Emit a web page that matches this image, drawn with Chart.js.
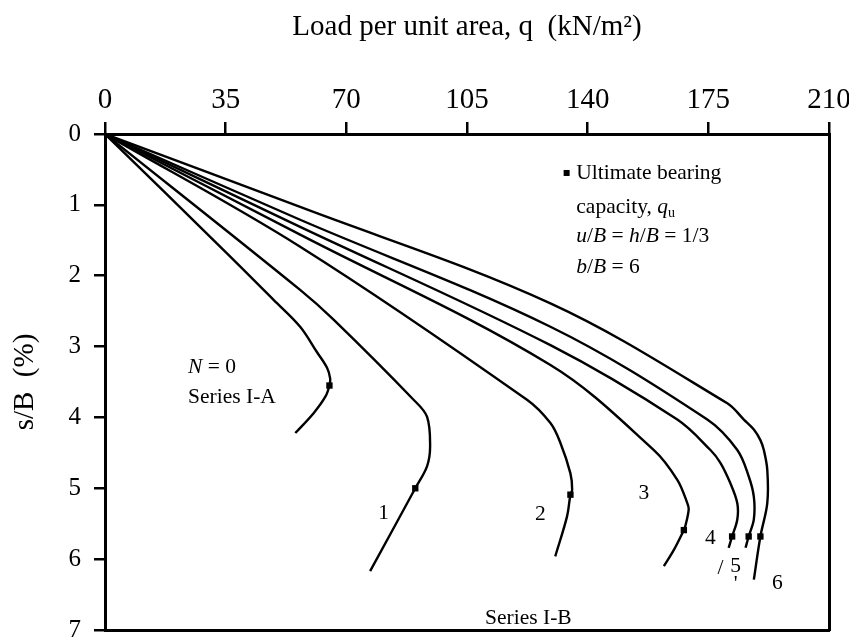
<!DOCTYPE html>
<html>
<head>
<meta charset="utf-8">
<script src="https://cdn.jsdelivr.net/npm/chart.js@4.4.0/dist/chart.umd.min.js"></script>
<style>
html,body{margin:0;padding:0;background:#fff;}
#wrap{width:849px;height:644px;position:relative;}
</style>
</head>
<body>
<div id="wrap"><canvas id="c" width="849" height="644"></canvas></div>
<script>
// ---- data ----
const xTickValues = [0, 35, 70, 105, 140, 175, 210];
const yTickValues = [0, 1, 2, 3, 4, 5, 6, 7];
const layerCounts = ['0', '1', '2', '3', '4', '5', '6'];

const loadN0   = [0, 35.3, 48.9, 56.6, 61.5, 64.4, 65.3, 65.1, 64.0, 60.5, 55.2];
const settleN0 = [0, 1.68, 2.34, 2.72, 3.08, 3.30, 3.45, 3.55, 3.70, 3.94, 4.22];

const loadN1   = [0, 56.6, 66.3, 89.5, 93.4, 94.3, 93.4, 90.0, 76.9];
const settleN1 = [0, 2.20, 2.62, 3.75, 3.99, 4.41, 4.69, 5.00, 6.17];

const loadN2   = [0, 56.6, 122.4, 129.2, 132.1, 135.0, 135.5, 135.0, 134.0, 130.6];
const settleN2 = [0, 1.59, 3.75, 4.08, 4.36, 4.79, 5.02, 5.09, 5.40, 5.96];

const loadN3   = [0, 56.6, 129.2, 159.2, 166.0, 168.9, 169.3, 168.3, 167.9, 165.0, 162.1];
const settleN3 = [0, 1.42, 3.26, 4.46, 4.88, 5.21, 5.30, 5.54, 5.59, 5.87, 6.10];

const loadN4   = [0, 56.6, 129.2, 166.0, 175.6, 178.5, 181.4, 183.4, 183.4, 181.9, 180.9];
const settleN4 = [0, 1.31, 2.98, 4.03, 4.46, 4.64, 4.93, 5.21, 5.44, 5.68, 5.84];

const loadN5   = [0, 56.6, 129.2, 174.7, 183.4, 186.7, 188.2, 188.2, 186.7, 185.8];
const settleN5 = [0, 1.21, 2.72, 4.03, 4.46, 4.83, 5.12, 5.44, 5.68, 5.84];

const loadN6   = [0, 56.6, 129.2, 180.5, 185.3, 188.2, 190.1, 191.1, 192.1, 192.1, 190.1, 188.2];
const settleN6 = [0, 1.03, 2.39, 3.80, 4.03, 4.17, 4.32, 4.46, 4.74, 5.21, 5.68, 6.29];

const ultimateLoad   = [65.1, 90.0, 135.0, 167.9, 181.9, 186.7, 190.1];
const ultimateSettle = [3.55, 5.00, 5.09, 5.59, 5.68, 5.68, 5.68];

// ---- build datasets ----
const curveLoads = [loadN0, loadN1, loadN2, loadN3, loadN4, loadN5, loadN6];
const curveSettles = [settleN0, settleN1, settleN2, settleN3, settleN4, settleN5, settleN6];

const datasets = curveLoads.map((qs, k) => ({
  label: 'N = ' + layerCounts[k],
  data: qs.map((q, i) => ({x: q, y: curveSettles[k][i]})),
  showLine: true,
  borderColor: '#000',
  borderWidth: 2.4,
  pointRadius: 0,
  tension: 0.35,
  fill: false
}));
datasets.push({
  label: 'Ultimate bearing capacity',
  data: ultimateLoad.map((q, i) => ({x: q, y: ultimateSettle[i]})),
  showLine: false,
  pointStyle: 'rect',
  pointRadius: 4.5,
  backgroundColor: '#000',
  borderColor: '#000',
  borderWidth: 0
});

const SERIF = '"Liberation Serif", "DejaVu Serif", serif';

// ---- annotation plugin (text labels placed in data coordinates) ----
const annotations = [
  {q: 24.1, s: 3.30, align: 'left', segs: [['N', 'i'], [' = 0', 'n']]},
  {q: 24.1, s: 3.72, align: 'left', segs: [['Series I-A', 'n']]},
  {q: 80.8, s: 5.35, align: 'center', segs: [['1', 'n']]},
  {q: 126.3, s: 5.37, align: 'center', segs: [['2', 'n']]},
  {q: 156.3, s: 5.07, align: 'center', segs: [['3', 'n']]},
  {q: 175.6, s: 5.70, align: 'center', segs: [['4', 'n']]},
  {q: 178.5, s: 6.13, align: 'center', segs: [['/', 'n']]},
  {q: 182.9, s: 6.10, align: 'center', segs: [['5', 'n']]},
  {q: 182.9, s: 6.36, align: 'center', segs: [["'", 'n']]},
  {q: 195.0, s: 6.34, align: 'center', segs: [['6', 'n']]},
  {q: 122.8, s: 6.84, align: 'center', segs: [['Series I-B', 'n']]},
  {q: 136.7, s: 0.55, align: 'left', segs: [['Ultimate bearing', 'n']]},
  {q: 136.7, s: 1.03, align: 'left', segs: [['capacity, ', 'n'], ['q', 'i'], ['u', 'sub']]},
  {q: 136.7, s: 1.45, align: 'left', segs: [['u', 'i'], ['/', 'n'], ['B', 'i'], [' = ', 'n'], ['h', 'i'], ['/', 'n'], ['B', 'i'], [' = 1/3', 'n']]},
  {q: 136.7, s: 1.88, align: 'left', segs: [['b', 'i'], ['/', 'n'], ['B', 'i'], [' = 6', 'n']]}
];
const legendSquare = {q: 133.9, s: 0.55};

const annotPlugin = {
  id: 'annot',
  afterDatasetsDraw(chart) {
    const {ctx} = chart;
    const xs = chart.scales.x, ys = chart.scales.y;
    const size = 21.5;
    const fontOf = st => st === 'i' ? `italic ${size}px ${SERIF}` : st === 'sub' ? `${Math.round(size*0.65)}px ${SERIF}` : `${size}px ${SERIF}`;
    ctx.save();
    ctx.fillStyle = '#000';
    ctx.textBaseline = 'middle';
    ctx.textAlign = 'left';
    annotations.forEach(a => {
      let total = 0;
      a.segs.forEach(([t, st]) => { ctx.font = fontOf(st); total += ctx.measureText(t).width; });
      let px = xs.getPixelForValue(a.q);
      const py = ys.getPixelForValue(a.s);
      if (a.align === 'center') px -= total / 2;
      a.segs.forEach(([t, st]) => {
        ctx.font = fontOf(st);
        ctx.fillText(t, px, st === 'sub' ? py + size * 0.3 : py);
        px += ctx.measureText(t).width;
      });
    });
    const sx = xs.getPixelForValue(legendSquare.q), sy = ys.getPixelForValue(legendSquare.s);
    ctx.fillRect(sx - 3, sy - 3, 6, 6);
    ctx.restore();
  }
};

function zeroPad(s) { s.paddingLeft = 0; s.paddingRight = 0; s.paddingTop = 0; s.paddingBottom = 0; }

new Chart(document.getElementById('c').getContext('2d'), {
  type: 'scatter',
  data: {datasets},
  plugins: [annotPlugin],
  options: {
    responsive: false,
    animation: false,
    devicePixelRatio: 1,
    layout: {padding: {left: 0, top: 0, right: 20, bottom: 14}},
    plugins: {legend: {display: false}, tooltip: {enabled: false}},
    scales: {
      x: {
        type: 'linear', position: 'top', min: 0, max: 210,
        afterBuildTicks: s => { s.ticks = xTickValues.map(v => ({value: v})); },
        afterFit: s => { s.height = 134; zeroPad(s); },
        ticks: {color: '#000', font: {family: SERIF, size: 29}, padding: 4},
        grid: {drawOnChartArea: false, tickLength: 12, color: '#000', lineWidth: 2.5},
        border: {color: '#000', width: 3},
        title: {display: true, text: 'Load per unit area, q  (kN/m²)', color: '#000',
                font: {family: SERIF, size: 29}, padding: {top: 10, bottom: 0}}
      },
      y: {
        type: 'linear', position: 'left', reverse: true, min: 0, max: 7,
        afterBuildTicks: s => { s.ticks = yTickValues.map(v => ({value: v})); },
        afterFit: s => { s.width = 105; zeroPad(s); },
        ticks: {color: '#000', font: {family: SERIF, size: 25}, padding: 13},
        grid: {drawOnChartArea: false, tickLength: 11, color: '#000', lineWidth: 2.5},
        border: {color: '#000', width: 3},
        title: {display: true, text: 's/B  (%)', color: '#000',
                font: {family: SERIF, size: 29}, padding: {top: 8, bottom: 0}}
      },
      x2: {
        type: 'linear', position: 'bottom', min: 0, max: 210,
        afterFit: s => { s.height = 0; zeroPad(s); },
        ticks: {display: false},
        grid: {drawOnChartArea: false, drawTicks: false},
        border: {color: '#000', width: 3}
      },
      y2: {
        type: 'linear', position: 'right', min: 0, max: 7,
        afterFit: s => { s.width = 0; zeroPad(s); },
        ticks: {display: false},
        grid: {drawOnChartArea: false, drawTicks: false},
        border: {color: '#000', width: 3}
      }
    }
  }
});
</script>
</body>
</html>
